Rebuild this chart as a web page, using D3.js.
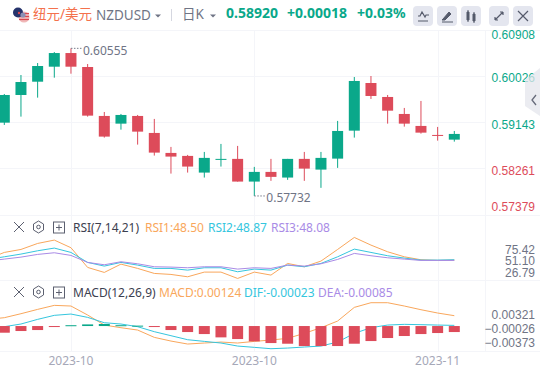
<!DOCTYPE html>
<html>
<head>
<meta charset="utf-8">
<script src="https://cdn.jsdelivr.net/npm/d3@7"></script>
<style>
  html, body { margin: 0; padding: 0; background: #fff; overflow: hidden; }
  svg { display: block; font-family: "Noto Sans", "Noto Sans CJK SC", sans-serif; }
</style>
</head>
<body>
<div id="chart"></div>
<script>
const opens = [0.59134,0.59663,0.59917,0.60204,0.60465,0.60198,0.59262,0.59115,0.59262,0.58937,0.58555,0.58498,0.58179,0.58422,0.58441,0.58007,0.58192,0.58084,0.58441,0.58236,0.58446,0.58981,0.59892,0.59625,0.59300,0.59071,0.58899,0.58809];
const closes = [0.59663,0.59911,0.60217,0.60465,0.60204,0.59268,0.58867,0.59281,0.58962,0.58561,0.58485,0.58294,0.58460,0.58441,0.58007,0.58192,0.58097,0.58441,0.58255,0.58460,0.58975,0.59931,0.59644,0.59363,0.59115,0.58943,0.58880,0.58918];
const highs = [0.59682,0.60045,0.60274,0.60484,0.60555,0.60255,0.59338,0.59300,0.59281,0.59205,0.58670,0.58517,0.58574,0.58727,0.58689,0.58288,0.58441,0.58441,0.58574,0.58574,0.59167,0.60007,0.60026,0.59663,0.59415,0.59549,0.59052,0.58975];
const lows = [0.59090,0.59249,0.59612,0.59994,0.60070,0.59249,0.58848,0.59000,0.58714,0.58504,0.58160,0.58179,0.58084,0.58294,0.58007,0.57732,0.58021,0.58040,0.58021,0.57887,0.58269,0.58848,0.59587,0.59115,0.59058,0.58924,0.58790,0.58771];

// indicator lines start one bar left of the first candle, they run off the edge
const rsi1 = [54.7,68.8,75.1,87.8,94.9,78.7,37.1,26.5,44.1,35.0,24.4,22.3,17.3,27.2,27.2,13.8,27.2,20.9,45.5,38.5,50.5,75.1,100.5,84.3,70.2,59.6,53.3,51.9,52.6];
const rsi2 = [54.0,59.6,65.3,72.3,78.0,68.8,47.7,39.9,47.7,42.0,35.0,35.0,31.4,36.4,36.4,27.9,33.6,31.4,42.0,38.5,45.5,59.6,75.8,68.8,61.8,56.8,52.6,52.6,53.3];
const rsi3 = [50.5,54.7,58.9,64.6,68.1,62.5,47.7,42.7,49.1,44.8,38.5,37.8,36.4,38.5,38.5,33.6,36.4,35.0,42.0,39.9,44.8,54.0,66.7,61.8,57.5,54.7,51.9,51.9,51.9];
const macdLine = [0.00163,0.00204,0.00301,0.00407,0.00505,0.00489,0.00269,0.00024,-0.00041,-0.00098,-0.00277,-0.00367,-0.00440,-0.00415,-0.00391,-0.00415,-0.00375,-0.00342,-0.00301,-0.00179,-0.00041,0.00122,0.00456,0.00570,0.00570,0.00489,0.00399,0.00318,0.00253];
const difLine = [-0.00057,-0.00016,0.00049,0.00163,0.00261,0.00293,0.00212,0.00081,0.00049,-0.00016,-0.00138,-0.00236,-0.00334,-0.00375,-0.00415,-0.00489,-0.00521,-0.00554,-0.00538,-0.00513,-0.00489,-0.00391,-0.00179,-0.00041,0.00024,0.00041,0.00033,0.00024,0.00016];
const macdBars = [-0.00163,-0.00122,-0.00098,-0.00012,0.00020,0.00040,0.00050,0.00020,0.00010,-0.00010,-0.00098,-0.00147,-0.00196,-0.00277,-0.00318,-0.00375,-0.00416,-0.00432,-0.00489,-0.00489,-0.00489,-0.00432,-0.00367,-0.00293,-0.00244,-0.00196,-0.00171,-0.00147];

const priceTicks = [0.60908,0.60026,0.59143,0.58261,0.57379];
const rsiTicks = [75.42,51.10,26.79];
const macdTicks = [0.00321,-0.00026,-0.00373];
const dateLabels = [[4,'2023-10'],[15,'2023-10'],[26,'2023-11']];
const highMark = [4,0.60555];
const lowMark = [15,0.57732];

const width = 540, height = 371;
const green = '#0aa88a', red = '#dd4b5a', grid = '#f4f5f9';
const orange = '#f9a75c', cyan = '#35c6de', purple = '#a98be6';
const gray = '#6f7485';

const svg = d3.select('#chart').append('svg').attr('width', width).attr('height', height);

const x = d3.scaleLinear().domain([0, 27]).range([4.3, 454.3]);
const yPrice = d3.scaleLinear().domain([0.60026, 0.58261]).range([76, 168.3]);
const yRsi = d3.scaleLinear().domain([75.42, 26.79]).range([249.3, 272.3]);
const yMacd = d3.scaleLinear().domain([0.00321, -0.00373]).range([312.9, 341.3]);
const bodyW = 11;

// grid
function hline(y, x2, color) {
  svg.append('line').attr('x1', 0).attr('x2', x2).attr('y1', y).attr('y2', y).attr('stroke', color || grid);
}
[30.5, 215.5, 280.5, 351.5].forEach(y => hline(y, width));
priceTicks.slice(1, 4).forEach(t => hline(Math.round(yPrice(t)) + 0.5, 485));
dateLabels.forEach(d => {
  let px = Math.round(x(d[0])) + 0.5;
  svg.append('line').attr('x1', px).attr('x2', px).attr('y1', 31).attr('y2', 351).attr('stroke', grid);
});
svg.append('line').attr('x1', 485.5).attr('x2', 485.5).attr('y1', 31).attr('y2', 351).attr('stroke', grid);

// candles
const candleData = d3.range(opens.length);
const colorOf = i => closes[i] >= opens[i] ? green : red;
svg.append('g').selectAll('line').data(candleData).join('line')
  .attr('x1', i => x(i)).attr('x2', i => x(i))
  .attr('y1', i => yPrice(highs[i])).attr('y2', i => yPrice(lows[i]))
  .attr('stroke', colorOf).attr('stroke-width', 1);
svg.append('g').selectAll('rect').data(candleData).join('rect')
  .attr('x', i => x(i) - bodyW / 2).attr('width', bodyW)
  .attr('y', i => yPrice(Math.max(opens[i], closes[i])))
  .attr('height', i => Math.max(1, Math.abs(yPrice(opens[i]) - yPrice(closes[i]))))
  .attr('fill', colorOf);

// high / low marks
[highMark, lowMark].forEach((m, k) => {
  let px = x(m[0]), py = yPrice(m[1]);
  svg.append('line').attr('x1', px).attr('x2', px + 11).attr('y1', py).attr('y2', py)
    .attr('stroke', '#777b8a').attr('stroke-dasharray', '1.5 1.5');
  svg.append('text').attr('x', px + 12).attr('y', py + (k ? 6 : 7)).attr('font-size', 12).attr('fill', gray)
    .text(m[1].toFixed(5));
});

// right axes
function rightAxis(scale, ticks, fmt, nudge, color) {
  let g = svg.append('g').attr('transform', 'translate(535,0)')
    .call(d3.axisLeft(scale).tickValues(ticks).tickFormat(fmt).tickSize(0).tickPadding(0));
  g.select('.domain').remove();
  g.selectAll('text').attr('font-family', 'inherit').attr('font-size', 12)
    .attr('fill', color).attr('dy', nudge);
}
rightAxis(yPrice, priceTicks, d3.format('.5f'), (d, i) => [8.5, 5.5, 6, 6.5, -4][i], d => d > 0.589 ? green : red);
rightAxis(yRsi, rsiTicks, d3.format('.2f'), 4, gray);
rightAxis(yMacd, macdTicks, d3.format('.5f'), 5.5, gray);

// rsi lines
const lineOf = scale => d3.line().x((d, i) => x(i - 1)).y(d => scale(d));
[[rsi1, orange], [rsi2, cyan], [rsi3, purple]].forEach(s => {
  svg.append('path').attr('d', lineOf(yRsi)(s[0])).attr('fill', 'none').attr('stroke', s[1]).attr('stroke-width', 1);
});

// macd lines go under the bars
[[macdLine, orange], [difLine, cyan]].forEach(s => {
  svg.append('path').attr('d', lineOf(yMacd)(s[0])).attr('fill', 'none').attr('stroke', s[1]).attr('stroke-width', 1);
});
svg.append('g').selectAll('rect').data(macdBars).join('rect')
  .attr('x', (d, i) => x(i) - bodyW / 2).attr('width', bodyW)
  .attr('y', d => d > 0 ? yMacd(d) : yMacd(0))
  .attr('height', d => Math.max(1, Math.abs(yMacd(d) - yMacd(0))))
  .attr('fill', d => d > 0 ? green : red);

// date labels
svg.append('g').selectAll('text').data(dateLabels).join('text')
  .attr('x', d => x(d[0])).attr('y', 365).attr('text-anchor', 'middle')
  .attr('font-size', 12).attr('fill', '#a6a8b8').text(d => d[1]);

// header
function label(px, py, txt, color, size, weight) {
  return svg.append('text').attr('x', px).attr('y', py).attr('fill', color)
    .attr('font-size', size || 12).attr('font-weight', weight || 400).text(txt);
}
// flags
svg.append('circle').attr('cx', 24).attr('cy', 17).attr('r', 5.5).attr('fill', '#f0b8b8');
[13.5, 16.5, 19.5].forEach(y => svg.append('line').attr('x1', 19).attr('x2', 29).attr('y1', y).attr('y2', y).attr('stroke', '#d9474f').attr('stroke-width', 1.2));
svg.append('circle').attr('cx', 18).attr('cy', 12.5).attr('r', 5).attr('fill', '#26336b');
svg.append('circle').attr('cx', 19).attr('cy', 13).attr('r', 1.2).attr('fill', '#d9474f');
svg.append('circle').attr('cx', 23).attr('cy', 15).attr('r', 2.6).attr('fill', '#8a8fb5');

label(33, 19, '纽元/美元', '#f4714d', 13.5);
label(96, 20, 'NZDUSD', gray, 13.5);
svg.append('path').attr('d', 'M155 14.5h6l-3 3z').attr('fill', gray);
svg.append('line').attr('x1', 171.5).attr('x2', 171.5).attr('y1', 9).attr('y2', 21).attr('stroke', '#d5d7e0');
label(182, 18.5, '日K', gray, 13.5);
svg.append('path').attr('d', 'M210 14.5h6l-3 3z').attr('fill', gray);
label(226, 18, '0.58920', green, 14, 700);
label(287, 18, '+0.00018', green, 14, 700);
label(357, 18, '+0.03%', green, 14, 700);

// toolbar
[413, 437, 461, 489, 513].forEach(bx => {
  svg.append('rect').attr('x', bx).attr('y', 6).attr('width', 20).attr('height', 20).attr('rx', 4).attr('fill', '#e4e6ef');
});
const ic = '#555a6b';
svg.append('path').attr('d', 'M418 16h2l2-4 3 5 1-2h3M418 21h10').attr('fill', 'none').attr('stroke', ic).attr('stroke-width', 1.2);
svg.append('path').attr('d', 'M443 19l6-7 2 2-6 6h-3zM442 22h11').attr('fill', ic).attr('stroke', ic).attr('stroke-width', 1);
svg.append('path').attr('d', 'M467 12h2v8h-2zM473 14h2v7h-2zM468 10v12M474 12v11').attr('fill', ic).attr('stroke', ic).attr('stroke-width', 1);
svg.append('path').attr('d', 'M495 20l8-8M495 20v-3M495 20h3M503 12h-3M503 12v3').attr('fill', 'none').attr('stroke', ic).attr('stroke-width', 1.2);
svg.append('path').attr('d', 'M518 11l10 10M528 11l-10 10').attr('fill', 'none').attr('stroke', ic).attr('stroke-width', 1.2);

// side handle sits over the axis labels, half see-through
svg.append('path').attr('d', 'M540 68L525 80V106L540 116z').attr('fill', '#e4e5ec').attr('fill-opacity', 0.75);
svg.append('path').attr('d', 'M536 95l-4 5 4 5').attr('fill', 'none').attr('stroke', '#666b7a').attr('stroke-width', 1.3);

// indicator legends
function legendIcons(cy) {
  svg.append('path').attr('d', `M14 ${cy - 5}l10 10M24 ${cy - 5}l-10 10`).attr('fill', 'none').attr('stroke', '#5c6070');
  svg.append('path').attr('d', `M38.5 ${cy - 6}l5 3v6l-5 3-5-3v-6z`).attr('fill', 'none').attr('stroke', '#5c6070');
  svg.append('circle').attr('cx', 38.5).attr('cy', cy).attr('r', 1.8).attr('fill', 'none').attr('stroke', '#5c6070');
  svg.append('rect').attr('x', 53.5).attr('y', cy - 5).attr('width', 11).attr('height', 11).attr('fill', 'none').attr('stroke', '#5c6070');
  svg.append('path').attr('d', `M56 ${cy + 0.5}h6M59 ${cy - 2.5}v6`).attr('fill', 'none').attr('stroke', '#5c6070');
}
legendIcons(227);
label(73, 232, 'RSI(7,14,21)', '#3c4050');
label(145, 232, 'RSI1:48.50', orange);
label(208, 232, 'RSI2:48.87', cyan);
label(271, 232, 'RSI3:48.08', purple);
legendIcons(292);
label(73, 297, 'MACD(12,26,9)', '#3c4050');
label(159, 297, 'MACD:0.00124', orange);
label(244, 297, 'DIF:-0.00023', cyan);
label(318, 297, 'DEA:-0.00085', purple);
</script>
</body>
</html>
